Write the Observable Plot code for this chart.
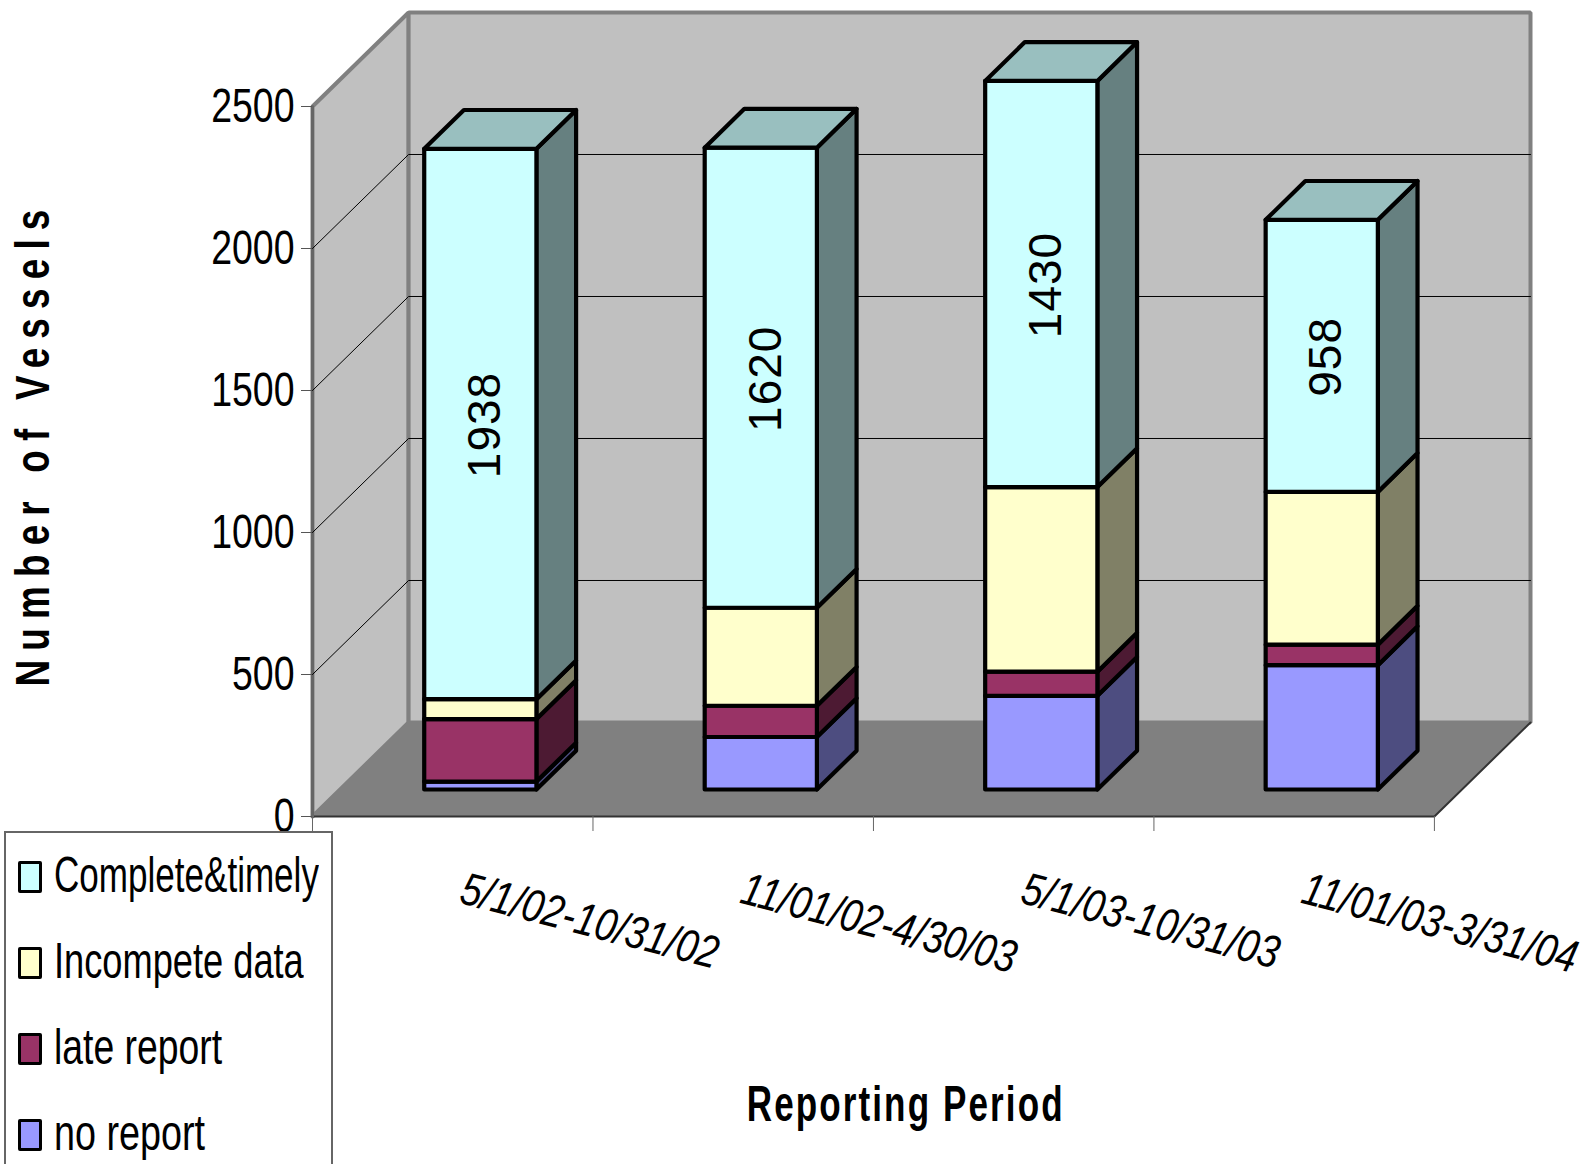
<!DOCTYPE html>
<html><head><meta charset="utf-8">
<script src="https://cdn.jsdelivr.net/npm/d3@7"></script>
<script src="https://cdn.jsdelivr.net/npm/@observablehq/plot@0.6"></script>
<style>
html,body{margin:0;padding:0;background:#fff;width:1587px;height:1164px;overflow:hidden;position:relative}
svg{display:block}
#legend{position:absolute;left:4px;top:831px;width:329px;height:340px;border:2px solid #666;box-sizing:border-box;background:#fff;font-family:"Liberation Sans",sans-serif;font-size:50px;color:#000}
#legend .it{position:absolute;left:0;height:52px;line-height:52px;white-space:nowrap}
#legend .sw{position:absolute;left:12px;top:10px;width:24px;height:32px;border:3.5px solid #000;border-radius:2px;box-sizing:border-box}
#legend .tx{position:absolute;left:48px;top:-2px;transform-origin:0 50%}
</style></head><body>
<div id="chart"></div><div id="legend"></div>
<script>
const periods = ["5/1/02-10/31/02","11/01/02-4/30/03","5/1/03-10/31/03","11/01/03-3/31/04"];
const noReport = [28,185,330,438];
const lateReport = [220,110,85,72];
const incomplete = [70,345,650,538];
const complete = [1938,1620,1430,958];
const seriesNames = ["no report","late report","Incompete data","Complete&timely"];
const legendWidths = [151,168,250,265];
const frontColors = ["#9999ff","#993366","#ffffcc","#ccffff"];
const sideColors = ["#4d4d80","#4d1a33","#808066","#668080"];
const topColor = "#99bfbf";
const yTicks = [0,500,1000,1500,2000,2500];
const gridValues = [500,1000,1500,2000];

const seriesValues = [noReport,lateReport,incomplete,complete];
const vMax = 2500, depthX = 0.3426, depthY = 331, nCat = periods.length;
const barA = 0.3, barB = 0.7, d0 = 0.287, d1 = 0.70;
const X = (c,d) => c + d*depthX;
const Y = (v,d) => v + d*depthY;
const P = (c,v,d) => ({x:X(c,d), y:Y(v,d)});
const face = (pts, opt) => Plot.line([...pts, pts[0]], {x:"x", y:"y", ...opt});

const marks = [];
const wallStyle = {fill:"#c0c0c0", stroke:"#808080", strokeWidth:4, strokeLinejoin:"miter"};
marks.push(face([P(0,0,0),P(0,vMax,0),P(0,vMax,1),P(0,0,1)], wallStyle));
marks.push(face([P(0,0,1),P(0,vMax,1),P(nCat,vMax,1),P(nCat,0,1)], wallStyle));
marks.push(face([P(0,0,0),P(0,0,1),P(nCat,0,1),P(nCat,0,0)], {fill:"#808080", stroke:"none"}));
marks.push(Plot.line([P(0,0,0),P(nCat,0,0),P(nCat,0,1)], {x:"x", y:"y", stroke:"#333", strokeWidth:2}));
marks.push(Plot.line([P(0,0,0),P(0,vMax,0)], {x:"x", y:"y", stroke:"#666", strokeWidth:3}));
for (const v of gridValues) {
  marks.push(Plot.line([P(0,v,0),P(0,v,1),P(nCat,v,1)], {x:"x", y:"y", stroke:"#000", strokeWidth:1, strokeLinejoin:"miter"}));
}
const barStroke = {stroke:"#000", strokeWidth:4.2, strokeLinejoin:"round"};
periods.forEach((p,i) => {
  let base = 0;
  seriesValues.forEach((vals,s) => {
    const lo = base, hi = base + vals[i];
    marks.push(face([P(i+barB,lo,d0),P(i+barB,hi,d0),P(i+barB,hi,d1),P(i+barB,lo,d1)], {fill:sideColors[s], ...barStroke}));
    marks.push(face([P(i+barA,lo,d0),P(i+barA,hi,d0),P(i+barB,hi,d0),P(i+barB,lo,d0)], {fill:frontColors[s], ...barStroke}));
    base = hi;
  });
  marks.push(face([P(i+barA,base,d0),P(i+barA,base,d1),P(i+barB,base,d1),P(i+barB,base,d0)], {fill:topColor, ...barStroke}));
  const lo = base - complete[i];
  const m = P(i+(barA+barB)/2,(lo+base)/2,d0);
  marks.push(Plot.text([complete[i]], {x:()=>m.x, y:()=>m.y, dx:5, dy:1, text:d=>String(d), rotate:-90, fontSize:46, fontFamily:"Liberation Sans", className:"datalabel", fill:"#000"}));
});
marks.push(Plot.axisY({ticks:yTicks, tickFormat:d=>String(d), anchor:"left", tickSize:11, tickPadding:7, label:null, stroke:"#555", fontSize:48, fontFamily:"Liberation Sans", fill:"#000"}));
marks.push(Plot.axisX({ticks:d3.range(0,nCat+1), anchor:"bottom", tickSize:15, tickFormat:()=>"", label:null, stroke:"#666"}));
marks.push(Plot.text(periods, {x:(d,i)=>i+1, frameAnchor:"bottom", textAnchor:"start", dx:-135, dy:86, rotate:14.5, text:d=>d, fontSize:46, fontStyle:"italic", fontFamily:"Liberation Sans", className:"catlabel", fill:"#000"}));
marks.push(Plot.text(["Number of Vessels"], {frameAnchor:"left", textAnchor:"middle", dx:-279, dy:29, rotate:-90, text:d=>d, fontSize:48, fontWeight:"bold", fontFamily:"Liberation Sans", className:"ytitle", fill:"#000"}));
marks.push(Plot.text(["Reporting Period"], {frameAnchor:"bottom", x:()=>2.115, dy:304, text:d=>d, fontSize:50, fontWeight:"bold", fontFamily:"Liberation Sans", className:"xtitle", fill:"#000"}));

const chart = Plot.plot({
  width:1587, height:1164,
  marginLeft:312, marginRight:57, marginTop:12, marginBottom:348,
  x:{domain:[0,nCat+depthX], axis:null},
  y:{domain:[0,vMax+depthY], axis:null},
  style:{background:"#fff", overflow:"visible"},
  marks
});
document.getElementById("chart").append(chart);

const squeeze = (sel, k) => d3.select(chart).selectAll(sel).each(function(){
  this.setAttribute("textLength", this.getComputedTextLength()*k);
  this.setAttribute("lengthAdjust","spacingAndGlyphs");
});
const fitTo = (sel, len, spacing) => d3.select(chart).selectAll(sel).each(function(){
  this.style.letterSpacing = spacing+"px";
  this.setAttribute("textLength", len);
  this.setAttribute("lengthAdjust","spacingAndGlyphs");
});
squeeze('g[aria-label="y-axis tick label"] text', 0.78);
squeeze(".catlabel text", 0.82);
d3.select(chart).selectAll(".datalabel text").style("letter-spacing","1px");
fitTo(".ytitle text", 486, 12);
fitTo(".xtitle text", 318, 3);

const legendEl = d3.select("#legend");
[3,2,1,0].forEach((s,k) => {
  const it = legendEl.append("div").attr("class","it").style("top",(18+k*86)+"px");
  it.append("div").attr("class","sw").style("background",frontColors[s]);
  const t = it.append("div").attr("class","tx").text(seriesNames[s]);
  const n = t.node();
  n.style.transform = `scaleX(${legendWidths[s]/n.offsetWidth})`;
});
</script></body></html>
